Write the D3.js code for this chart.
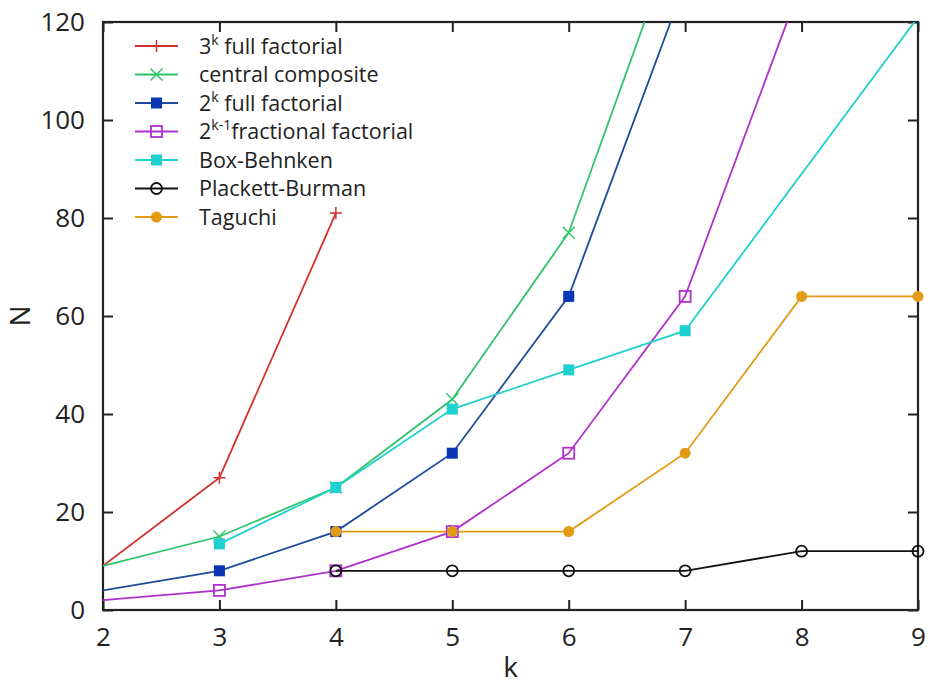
<!DOCTYPE html>
<html>
<head>
<meta charset="utf-8">
<script src="https://cdn.jsdelivr.net/npm/d3@7"></script>
<style>
  body { margin: 0; background: #fff; }
  text { font-family: "Open Sans", "Noto Sans", sans-serif; fill: #222; }
</style>
</head>
<body>
<script>
// values
var kValues = [2, 3, 4, 5, 6, 7, 8, 9];
var yTicks = [0, 20, 40, 60, 80, 100, 120];

var full3k = [[2, 9], [3, 27], [4, 81]];
var centralComposite = [[2, 9], [3, 15], [4, 25], [5, 43], [6, 77], [7, 143]];
var full2k = [[2, 4], [3, 8], [4, 16], [5, 32], [6, 64], [7, 128]];
var fractional = [[2, 2], [3, 4], [4, 8], [5, 16], [6, 32], [7, 64], [8, 128]];
var boxBehnken = [[3, 13.5], [4, 25], [5, 41], [6, 49], [7, 57], [9, 121]];
var plackett = [[4, 8], [5, 8], [6, 8], [7, 8], [8, 12], [9, 12]];
var taguchi = [[4, 16], [5, 16], [6, 16], [7, 32], [8, 64], [9, 64]];

var series = [
  { name: ['3', 'k', ' full factorial'], data: full3k, color: '#d0312d', marker: 'plus' },
  { name: ['central composite'], data: centralComposite, color: '#2fc46a', marker: 'x' },
  { name: ['2', 'k', ' full factorial'], data: full2k, color: '#1f4c9a', fill: '#0a35b5', marker: 'square' },
  { name: ['2', 'k-1', 'fractional factorial'], data: fractional, color: '#b02fcf', marker: 'opensquare' },
  { name: ['Box-Behnken'], data: boxBehnken, color: '#1fd0d0', marker: 'square' },
  { name: ['Plackett-Burman'], data: plackett, color: '#111', marker: 'circle' },
  { name: ['Taguchi'], data: taguchi, color: '#e39a14', marker: 'dot' }
];

var width = 928, height = 684;
var mLeft = 103, mRight = 918, mTop = 22, mBottom = 610;

var svg = d3.select('body').append('svg')
  .attr('width', width)
  .attr('height', height);

var x = d3.scaleLinear().domain([2, 9]).range([mLeft, mRight]);
var y = d3.scaleLinear().domain([0, 120]).range([mBottom, mTop]);

svg.append('defs').append('clipPath').attr('id', 'clip')
  .append('rect')
  .attr('x', mLeft).attr('y', mTop)
  .attr('width', mRight - mLeft).attr('height', mBottom - mTop);

// frame with inward ticks on every side
var tickLen = 10;
var axisColor = '#222';
var fmt = d3.format('d');

svg.append('g').attr('transform', 'translate(0,' + mBottom + ')')
  .call(d3.axisBottom(x).tickValues(kValues).tickFormat(fmt).tickSize(-tickLen).tickPadding(18).tickSizeOuter(0))
  .call(function(g) { g.selectAll('text').style('font-size', '26px'); });
svg.append('g').attr('transform', 'translate(0,' + mTop + ')')
  .call(d3.axisTop(x).tickValues(kValues).tickSize(-tickLen).tickSizeOuter(0).tickFormat(''));
svg.append('g').attr('transform', 'translate(' + mLeft + ',0)')
  .call(d3.axisLeft(y).tickValues(yTicks).tickFormat(fmt).tickSize(-tickLen).tickPadding(18).tickSizeOuter(0))
  .call(function(g) { g.selectAll('text').style('font-size', '26px'); });
svg.append('g').attr('transform', 'translate(' + mRight + ',0)')
  .call(d3.axisRight(y).tickValues(yTicks).tickSize(-tickLen).tickSizeOuter(0).tickFormat(''));

svg.selectAll('.domain').remove();
svg.selectAll('.tick line').attr('stroke', axisColor).attr('stroke-width', 2);
svg.selectAll('.tick text').attr('fill', '#222').style('font-family', '"Open Sans", sans-serif');

svg.append('rect')
  .attr('x', mLeft).attr('y', mTop)
  .attr('width', mRight - mLeft).attr('height', mBottom - mTop)
  .attr('fill', 'none').attr('stroke', axisColor).attr('stroke-width', 2.2);

svg.append('text')
  .attr('x', (mLeft + mRight) / 2).attr('y', 677)
  .attr('text-anchor', 'middle')
  .style('font-size', '28px')
  .text('k');

svg.append('text')
  .attr('transform', 'translate(30,' + ((mTop + mBottom) / 2) + ') rotate(-90)')
  .attr('text-anchor', 'middle')
  .style('font-size', '28px')
  .text('N');

// marker drawing
function drawMarker(g, type, color, fill, cx, cy) {
  if (type === 'plus') {
    g.append('path').attr('d', 'M' + cx + ',' + (cy - 6) + 'V' + (cy + 6) + 'M' + (cx - 6) + ',' + cy + 'H' + (cx + 6))
      .attr('stroke', color).attr('stroke-width', 1.5);
  } else if (type === 'x') {
    g.append('path').attr('d', 'M' + (cx - 6) + ',' + (cy - 6) + 'L' + (cx + 6) + ',' + (cy + 6) +
      'M' + (cx - 6) + ',' + (cy + 6) + 'L' + (cx + 6) + ',' + (cy - 6))
      .attr('stroke', color).attr('stroke-width', 1.5);
  } else if (type === 'square') {
    g.append('rect').attr('x', cx - 5.5).attr('y', cy - 5.5).attr('width', 11).attr('height', 11)
      .attr('fill', fill || color);
  } else if (type === 'opensquare') {
    g.append('rect').attr('x', cx - 5.5).attr('y', cy - 5.5).attr('width', 11).attr('height', 11)
      .attr('fill', 'none').attr('stroke', color).attr('stroke-width', 1.8);
  } else if (type === 'circle') {
    g.append('circle').attr('cx', cx).attr('cy', cy).attr('r', 5.5)
      .attr('fill', 'none').attr('stroke', color).attr('stroke-width', 1.8);
  } else if (type === 'dot') {
    g.append('circle').attr('cx', cx).attr('cy', cy).attr('r', 5.5).attr('fill', color);
  }
}

var line = d3.line()
  .x(function(d) { return x(d[0]); })
  .y(function(d) { return y(d[1]); });

var plot = svg.append('g').attr('clip-path', 'url(#clip)');
var markLayer = svg.append('g');

series.forEach(function(s) {
  plot.append('path')
    .datum(s.data)
    .attr('d', line)
    .attr('fill', 'none')
    .attr('stroke', s.color)
    .attr('stroke-width', 1.8);
});

// no markers on the left border (k = 2), as in the original
series.forEach(function(s) {
  s.data.forEach(function(d) {
    if (d[1] <= 120 && d[0] > 2) drawMarker(markLayer, s.marker, s.color, s.fill, x(d[0]), y(d[1]));
  });
});

// legend
var legend = svg.append('g');
series.forEach(function(s, i) {
  var ly = 46 + i * 28.5;
  legend.append('line')
    .attr('x1', 135).attr('x2', 178)
    .attr('y1', ly).attr('y2', ly)
    .attr('stroke', s.color).attr('stroke-width', 1.8);
  drawMarker(legend, s.marker, s.color, s.fill, 156.5, ly);
  var t = legend.append('text')
    .attr('x', 199).attr('y', ly + 7.5)
    .style('font-size', '21.5px');
  if (s.name.length === 1) {
    t.text(s.name[0]);
  } else {
    t.append('tspan').text(s.name[0]);
    t.append('tspan').attr('dy', -9).style('font-size', '14px').text(s.name[1]);
    t.append('tspan').attr('dy', 9).text(s.name[2]);
  }
});
</script>
</body>
</html>
